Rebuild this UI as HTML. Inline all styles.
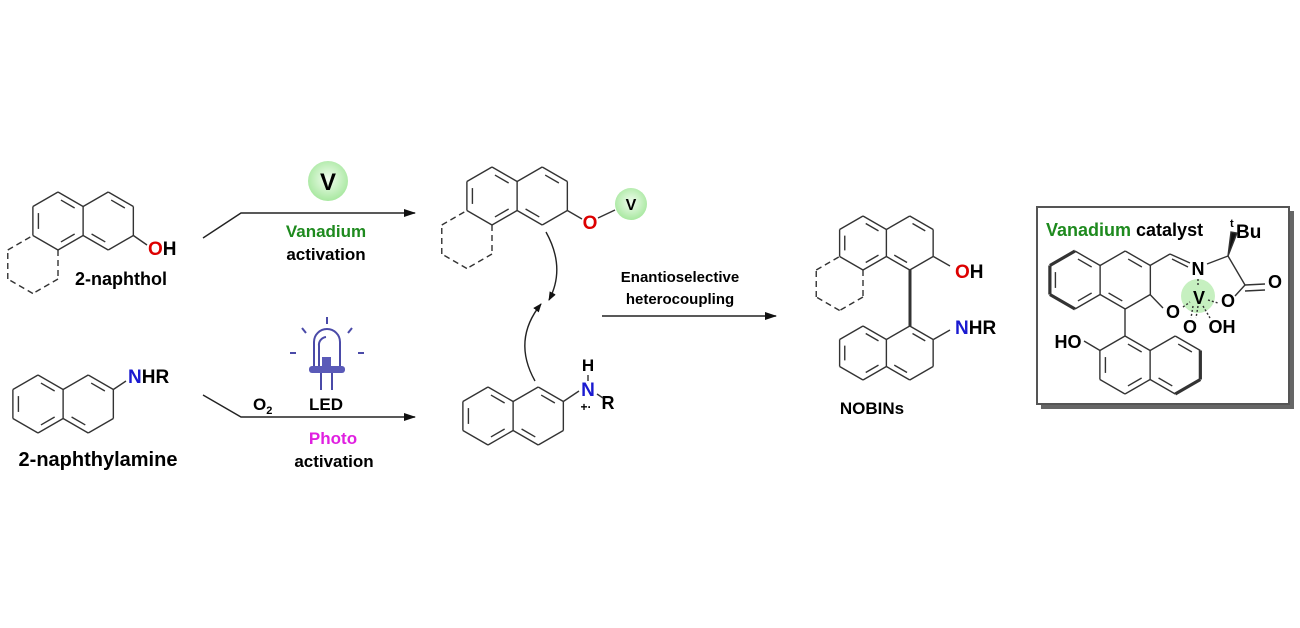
<!DOCTYPE html>
<html><head><meta charset="utf-8"><style>
html,body{margin:0;padding:0;background:#fff;width:1300px;height:628px;overflow:hidden}
svg text{font-family:"Liberation Sans",Arial,sans-serif;font-weight:bold}
</style></head><body>
<svg id="s" width="1300" height="628" viewBox="0 0 1300 628" xmlns="http://www.w3.org/2000/svg">
<defs>
<radialGradient id="g" cx="50%" cy="45%" r="55%"><stop offset="0" stop-color="#f2fdf0"/><stop offset="1" stop-color="#a8e8a0"/></radialGradient>
<marker id="ah" markerWidth="12" markerHeight="8" refX="11" refY="4" orient="auto" markerUnits="userSpaceOnUse"><path d="M0,0 L12,4 L0,8 Z" fill="#111"/></marker>
<marker id="ah2" markerWidth="9" markerHeight="7" refX="8" refY="3.5" orient="auto" markerUnits="userSpaceOnUse"><path d="M0,0 L9,3.5 L0,7 Z" fill="#111"/></marker>
</defs>

<rect x="1041" y="211" width="253" height="198" fill="#666"/>
<rect x="1037" y="207" width="252" height="197" fill="#fff" stroke="#555" stroke-width="2"/>
<circle cx="1198" cy="296" r="17" fill="#b8ecb0" opacity="0.8"/>

<g stroke="#222" stroke-width="1.4" fill="none">
<path d="M203,238 L241,213 L415,213" marker-end="url(#ah)"/>
<path d="M203,395 L241,417 L415,417" marker-end="url(#ah)"/>
<path d="M602,316 L776,316" marker-end="url(#ah)"/>
<path d="M546,232 Q566,268 549,300" marker-end="url(#ah2)"/>
<path d="M535,381 Q512,340 541,304" marker-end="url(#ah2)"/>
</g>

<circle cx="328" cy="181" r="20" fill="url(#g)"/>
<text x="328" y="190" font-size="24" text-anchor="middle">V</text>
<circle cx="631" cy="204" r="16" fill="url(#g)"/>
<text x="631" y="210" font-size="16" text-anchor="middle" font-weight="normal">V</text>

<text x="148" y="255" font-size="19"><tspan fill="#d00">O</tspan>H</text>
<text x="121" y="285" font-size="18" text-anchor="middle">2-naphthol</text>
<text x="128" y="383" font-size="19"><tspan fill="#1a1ad0">N</tspan>HR</text>
<text x="98" y="466" font-size="20" text-anchor="middle">2-naphthylamine</text>

<text x="326" y="237" font-size="17" text-anchor="middle" fill="#1e8a1e">Vanadium</text>
<text x="326" y="260" font-size="17" text-anchor="middle">activation</text>
<text x="253" y="410" font-size="17">O<tspan font-size="11" dy="4">2</tspan></text>
<text x="326" y="410" font-size="17" text-anchor="middle">LED</text>
<text x="333" y="444" font-size="17" text-anchor="middle" fill="#e020e0">Photo</text>
<text x="334" y="467" font-size="17" text-anchor="middle">activation</text>

<g stroke="#4a4aa8" stroke-width="2" fill="none">
<path d="M314,368 L314,342 A13,13 0 0 1 340,342 L340,368"/>
<path d="M319,366 L319,346 A8,8 0 0 1 326,337"/>
<line x1="327" y1="317" x2="327" y2="324"/><line x1="302" y1="328" x2="306" y2="333"/><line x1="352" y1="328" x2="348" y2="333"/>
<line x1="290" y1="353" x2="296" y2="353"/><line x1="358" y1="353" x2="364" y2="353"/>
<line x1="321" y1="373" x2="321" y2="390"/><line x1="332" y1="373" x2="332" y2="390"/>
</g>
<rect x="309" y="366" width="36" height="7" rx="3" fill="#5a5ab8"/>
<rect x="322" y="357" width="9" height="10" fill="#5a5ab8"/>

<text x="590" y="229" font-size="19" text-anchor="middle" fill="#d00">O</text>
<text x="588" y="371" font-size="17" text-anchor="middle">H</text>
<text x="588" y="396" font-size="19" text-anchor="middle" fill="#1a1ad0">N</text>
<text x="586" y="411" font-size="12" text-anchor="middle" font-weight="normal">+·</text>
<text x="608" y="409" font-size="18" text-anchor="middle">R</text>

<text x="680" y="282" font-size="15" text-anchor="middle">Enantioselective</text>
<text x="680" y="304" font-size="15" text-anchor="middle">heterocoupling</text>

<text x="955" y="278" font-size="19"><tspan fill="#d00">O</tspan>H</text>
<text x="955" y="334" font-size="19"><tspan fill="#1a1ad0">N</tspan>HR</text>
<text x="872" y="414" font-size="17" text-anchor="middle">NOBINs</text>

<text x="1046" y="236" font-size="18"><tspan fill="#1e8a1e">Vanadium</tspan> catalyst</text>
<text x="1230" y="227" font-size="11">t</text>
<text x="1236" y="238" font-size="19">Bu</text>
<text x="1198" y="275" font-size="18" text-anchor="middle">N</text>
<text x="1199" y="304" font-size="18" text-anchor="middle">V</text>
<text x="1173" y="318" font-size="18" text-anchor="middle">O</text>
<text x="1190" y="333" font-size="18" text-anchor="middle">O</text>
<text x="1222" y="333" font-size="18" text-anchor="middle">OH</text>
<text x="1228" y="307" font-size="18" text-anchor="middle">O</text>
<text x="1275" y="288" font-size="18" text-anchor="middle">O</text>
<text x="1068" y="348" font-size="18" text-anchor="middle">HO</text>

<g id="mol" stroke="#333" stroke-width="1.4" fill="none"></g>
</svg>
<script>
var NS="http://www.w3.org/2000/svg",G=document.getElementById("mol");
function L(x1,y1,x2,y2,o){o=o||{};var l=document.createElementNS(NS,"line");l.setAttribute("x1",x1);l.setAttribute("y1",y1);l.setAttribute("x2",x2);l.setAttribute("y2",y2);if(o.w)l.setAttribute("stroke-width",o.w);if(o.d)l.setAttribute("stroke-dasharray",o.d);G.appendChild(l);}
function V(cx,cy,s){var v=[];for(var i=0;i<6;i++){var a=(-90+60*i)*Math.PI/180;v.push([cx+s*Math.cos(a),cy+s*Math.sin(a)]);}return v;}
function H(cx,cy,s,inner,o){o=o||{};var v=V(cx,cy,s);for(var i=0;i<6;i++){var a=v[i],b=v[(i+1)%6];if(o.skip&&o.skip.indexOf(i)>=0)continue;var w=(o.bold&&o.bold.indexOf(i)>=0)?3.2:null;L(a[0],a[1],b[0],b[1],{w:w,d:o.dash?"6,4":null});}
(inner||[]).forEach(function(i){var a=v[i],b=v[(i+1)%6];var k=0.78,t=0.15;var ax=cx+(a[0]-cx)*k,ay=cy+(a[1]-cy)*k,bx=cx+(b[0]-cx)*k,by=cy+(b[1]-cy)*k;L(ax+(bx-ax)*t,ay+(by-ay)*t,bx+(ax-bx)*t,by+(ay-by)*t);});return v;}
function N(x,y,s,o){o=o||{};H(x,y,s,[0,2,4],{bold:o.bl});H(x+s*Math.sqrt(3),y,s,[0,3],{bold:o.br,skip:[4]});}
var S=29,D=S*Math.sqrt(3)/2;
N(58,221,S);H(58-D,221+1.5*S,S,[],{dash:1,skip:[0]});L(58+3*D,221+S/2,147,245);
N(38,404,S);L(38+3*D,404-S/2,126,381);
N(492,196,S);H(492-D,196+1.5*S,S,[],{dash:1,skip:[0]});L(492+3*D,196+S/2,582,219);L(598,218,615,210);
N(488,416,S);L(488+3*D,416-S/2,579,391);
L(588,375,588,381);L(597,394,603,398);
var s=27,d=s*Math.sqrt(3);
N(863,243,s);H(863-d/2,283.5,s,[],{dash:1,skip:[0]});
N(863,353,s);
L(910,270,910,326,{w:3});
L(933.4,256.5,950,266);L(933.4,339.5,950,330);
var c=29;
N(1075,280,c,{bl:[3,4,5]});
L(1125,309,1125,336);
N(1125,365,c,{br:[1,2]});
L(1100,350.5,1084,341);
L(1150,265.5,1170,254);L(1170,254,1190,263);L(1172,259,1188,267);
L(1207,264,1228,256);L(1228,256,1245,285);L(1245,285,1265,284);L(1245,291,1265,290);L(1245,285,1235,296);
L(1150,294.5,1163,308);
var w=document.createElementNS(NS,"path");w.setAttribute("d","M1228,256 L1231,232 L1237,233 Z");w.setAttribute("fill","#111");G.appendChild(w);
L(1198,279,1198,287,{d:"2,2"});L(1183,307,1190,302,{d:"2,2"});L(1208,300,1218,303,{d:"2,2"});
L(1193,306,1191,318,{d:"2,2"});L(1198,306,1196,318,{d:"2,2"});L(1203,306,1210,318,{d:"2,2"});
</script>
</body></html>
